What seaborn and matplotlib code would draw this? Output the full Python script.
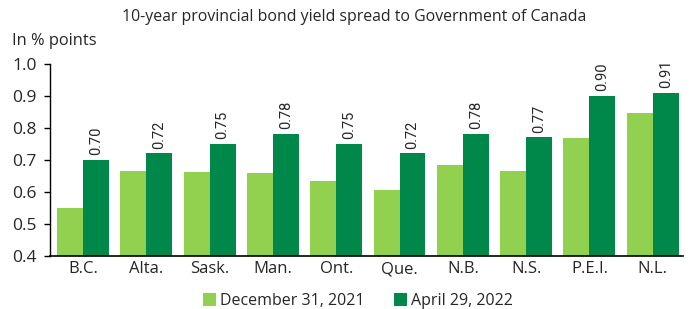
import matplotlib
matplotlib.use("Agg")
import matplotlib.pyplot as plt
import seaborn as sns
import pandas as pd

provinces = ["B.C.", "Alta.", "Sask.", "Man.", "Ont.", "Que.", "N.B.", "N.S.", "P.E.I.", "N.L."]
dec_2021 = [0.55, 0.665, 0.662, 0.66, 0.634, 0.605, 0.684, 0.665, 0.768, 0.847]
apr_2022 = [0.70, 0.72, 0.75, 0.78, 0.75, 0.72, 0.78, 0.77, 0.90, 0.91]
series_names = ["December 31, 2021", "April 29, 2022"]
colors = ["#92D050", "#00884A"]
yticks = [0.4, 0.5, 0.6, 0.7, 0.8, 0.9, 1.0]

sns.set_style("white")
plt.rcParams["font.family"] = ["Open Sans", "DejaVu Sans"]
narrow = ["Roboto", "DejaVu Sans"]

df = pd.DataFrame({
    "Province": provinces * 2,
    "Value": dec_2021 + apr_2022,
    "Series": [series_names[0]] * len(provinces) + [series_names[1]] * len(provinces),
})

fig = plt.figure(figsize=(6.89, 3.09), dpi=100)
ax = fig.add_axes([0.0726, 0.1725, 0.918, 0.6205])
sns.barplot(data=df, x="Province", y="Value", hue="Series", palette=colors,
            width=0.82, saturation=1, ax=ax, errorbar=None, linewidth=0)

ax.set_ylim(0.4, 1.0)
ax.set_xlim(-0.52, 9.47)
ax.set_yticks(yticks)
ax.set_yticklabels([f"{t:.1f}" for t in yticks], fontsize=12.5)
ax.tick_params(axis="y", length=4, width=1, color="black", direction="out", pad=5.5, left=True)
ax.tick_params(axis="x", length=0, labelsize=12, pad=4)
ax.set_xlabel("")
ax.set_ylabel("")
for s in ["top", "right"]:
    ax.spines[s].set_visible(False)
ax.spines["left"].set_color("black")
ax.spines["left"].set_linewidth(1)
ax.spines["bottom"].set_color("black")
ax.spines["bottom"].set_linewidth(1.2)

dark = ax.containers[1]
ax.bar_label(dark, labels=[f"{v:.2f}" for v in apr_2022], rotation=90,
             padding=3.5, fontsize=10.5, family=narrow)

leg = ax.legend(loc="upper center", bbox_to_anchor=(0.487, -0.12), ncol=2, frameon=False,
                fontsize=11.5, handlelength=0.8, handleheight=0.8, handletextpad=0.3,
                columnspacing=1.8)

fig.text(0.514, 0.946, "10-year provincial bond yield spread to Government of Canada",
         ha="center", va="center", fontsize=11.4)
fig.text(0.017, 0.867, "In % points", ha="left", va="center", fontsize=11.8)

fig.savefig("out.png", dpi=100)
